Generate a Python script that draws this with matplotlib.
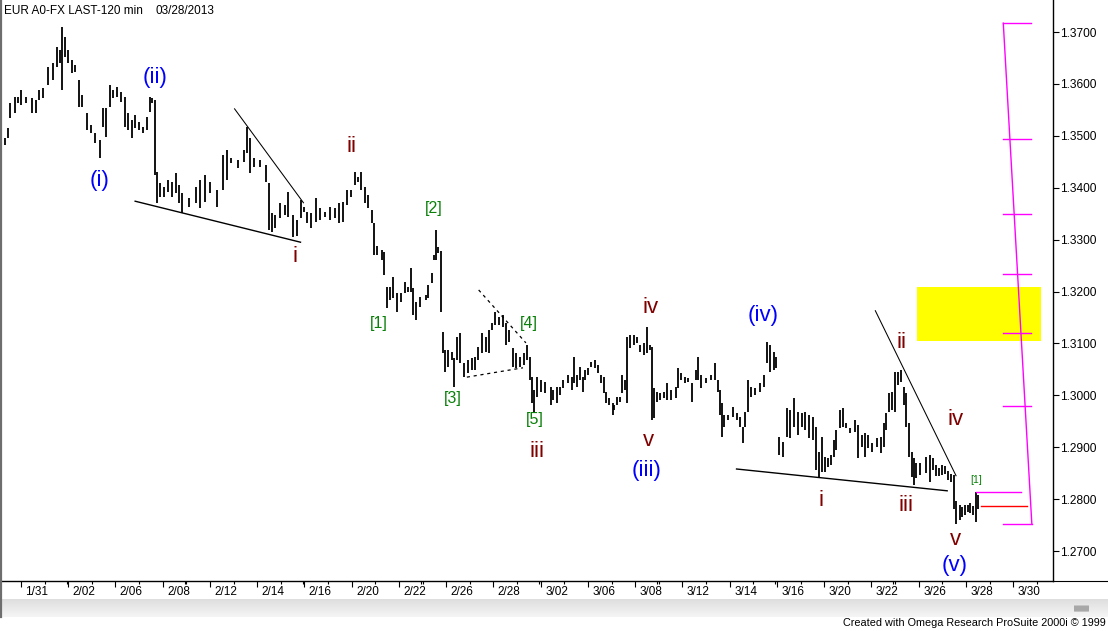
import matplotlib
matplotlib.use("Agg")
import matplotlib.pyplot as plt
import numpy as np
from matplotlib.patches import Rectangle, FancyBboxPatch
from matplotlib.lines import Line2D
import matplotlib.transforms as mtransforms

plt.rcParams['font.family'] = ['Liberation Sans', 'DejaVu Sans']

# ---------------- data: 120-min EUR bars (hours from 1/31 session start) ----------------
hours = [-16, -13, -11, -6, -3, 0, 5, 11, 15, 18, 22, 27, 33, 37, 40, 42, 45, 48, 52, 55,
         59, 62, 67, 71, 75, 80, 83, 86, 90, 93, 98, 102, 106, 109, 113, 116, 120, 124, 128, 131,
         133, 136, 138, 141, 145, 149, 153, 158, 161, 164, 171, 178, 182, 187, 192, 199, 205, 209, 213, 221,
         227, 230, 233, 237, 243, 249, 252, 255, 258, 263, 268, 271, 276, 280, 284, 288, 291, 295, 300, 304,
         309, 314, 319, 323, 327, 331, 335, 339, 342, 345, 350, 353, 357, 359, 362, 367, 369, 372, 375, 378,
         382, 386, 390, 393, 396, 398, 401, 405, 411, 414, 418, 420, 422, 424, 427, 429, 431, 434, 438, 440,
         443, 446, 450, 454, 458, 461, 464, 468, 472, 475, 479, 482, 486, 490, 493, 496, 500, 503, 507, 511,
         514, 517, 519, 521, 524, 528, 532, 538, 541, 545, 548, 551, 556, 560, 562, 565, 568, 571, 573, 576,
         579, 583, 586, 589, 592, 594, 597, 601, 603, 606, 609, 611, 614, 616, 619, 623, 626, 629, 633, 636,
         639, 641, 643, 646, 649, 653, 656, 660, 665, 668, 671, 675, 678, 682, 686, 688, 691, 696, 701, 705,
         708, 710, 712, 714, 718, 723, 727, 731, 734, 736, 739, 742, 746, 751, 755, 758, 761, 765, 767, 770,
         774, 778, 781, 785, 789, 793, 797, 801, 805, 808, 811, 814, 817, 820, 823, 826, 828, 832, 835, 838,
         842, 847, 850, 854, 858, 861, 865, 870, 874, 877, 879, 882, 885, 888, 891, 894, 897, 899, 902, 905,
         907, 909, 913, 919, 924, 927, 930, 933, 936, 939, 942, 945, 948, 950, 954, 956, 959, 962, 964, 967,
         970, 972]

highs = [1.3496, 1.3515, 1.3563, 1.3575, 1.3575, 1.3588, 1.3575, 1.3573, 1.3569, 1.3588, 1.3592, 1.3633, 1.3640, 1.3671, 1.3665, 1.3710, 1.3690, 1.3665, 1.3646, 1.3637,
         1.3608, 1.3579, 1.3544, 1.3521, 1.3506, 1.3492, 1.3554, 1.3554, 1.3598, 1.3588, 1.3594, 1.3584, 1.3575, 1.3544, 1.3531, 1.3540, 1.3527, 1.3517, 1.3536, 1.3575,
         1.3573, 1.3569, 1.3430, 1.3409, 1.3401, 1.3415, 1.3411, 1.3428, 1.3405, 1.3390, 1.3380, 1.3401, 1.3415, 1.3425, 1.3411, 1.3396, 1.3463, 1.3473, 1.3457, 1.3453,
         1.3473, 1.3517, 1.3496, 1.3457, 1.3453, 1.3444, 1.3409, 1.3351, 1.3347, 1.3371, 1.3367, 1.3392, 1.3347, 1.3338, 1.3376, 1.3363, 1.3353, 1.3351, 1.3380, 1.3361,
         1.3353, 1.3363, 1.3361, 1.3371, 1.3373, 1.3396, 1.3396, 1.3430, 1.3421, 1.3430, 1.3401, 1.3386, 1.3357, 1.3332, 1.3288, 1.3280, 1.3276, 1.3209, 1.3209, 1.3228,
         1.3197, 1.3197, 1.3218, 1.3209, 1.3245, 1.3207, 1.3180, 1.3189, 1.3193, 1.3213, 1.3236, 1.3270, 1.3318, 1.3286, 1.3278, 1.3122, 1.3087, 1.3087, 1.3084, 1.3072,
         1.3112, 1.3120, 1.3062, 1.3068, 1.3072, 1.3074, 1.3093, 1.3120, 1.3112, 1.3126, 1.3139, 1.3160, 1.3151, 1.3155, 1.3139, 1.3126, 1.3091, 1.3082, 1.3074, 1.3082,
         1.3097, 1.3074, 1.3035, 1.3010, 1.3035, 1.3030, 1.3026, 1.3016, 1.3010, 1.3016, 1.3016, 1.3030, 1.3039, 1.3035, 1.3074, 1.3039, 1.3055, 1.3035, 1.3049, 1.3053,
         1.3064, 1.3068, 1.3058, 1.3039, 1.3035, 1.3006, 1.2995, 1.2985, 1.2981, 1.2997, 1.2997, 1.3039, 1.3030, 1.3112, 1.3116, 1.3116, 1.3112, 1.3097, 1.3101, 1.3132,
         1.3097, 1.3093, 1.3014, 1.3006, 1.3004, 1.3006, 1.3024, 1.3010, 1.3016, 1.3053, 1.3043, 1.3035, 1.3034, 1.3024, 1.3049, 1.3074, 1.3039, 1.3034, 1.3039, 1.3062,
         1.3030, 1.3010, 1.2985, 1.2962, 1.2962, 1.2977, 1.2966, 1.2958, 1.2939, 1.2968, 1.3030, 1.3016, 1.3014, 1.3024, 1.3039, 1.3103, 1.3097, 1.3084, 1.3074, 1.2920,
         1.2910, 1.2976, 1.2972, 1.2995, 1.2968, 1.2966, 1.2968, 1.2962, 1.2958, 1.2939, 1.2891, 1.2920, 1.2881, 1.2879, 1.2885, 1.2914, 1.2933, 1.2972, 1.2976, 1.2947,
         1.2937, 1.2952, 1.2943, 1.2923, 1.2927, 1.2923, 1.2908, 1.2918, 1.2920, 1.2947, 1.2966, 1.3004, 1.3006, 1.3045, 1.3045, 1.3049, 1.3016, 1.3004, 1.2947, 1.2891,
         1.2879, 1.2870, 1.2870, 1.2881, 1.2885, 1.2879, 1.2866, 1.2860, 1.2866, 1.2864, 1.2854, 1.2848, 1.2846, 1.2796, 1.2789, 1.2785, 1.2789, 1.2789, 1.2792, 1.2787,
         1.2814, 1.2808]

lows = [1.3482, 1.3496, 1.3534, 1.3544, 1.3563, 1.3559, 1.3563, 1.3544, 1.3544, 1.3569, 1.3573, 1.3598, 1.3608, 1.3633, 1.3640, 1.3588, 1.3652, 1.3640, 1.3621, 1.3623,
        1.3556, 1.3556, 1.3511, 1.3506, 1.3486, 1.3457, 1.3517, 1.3498, 1.3556, 1.3573, 1.3575, 1.3565, 1.3517, 1.3511, 1.3496, 1.3515, 1.3511, 1.3506, 1.3511, 1.3546,
        1.3563, 1.3425, 1.3371, 1.3382, 1.3382, 1.3392, 1.3382, 1.3390, 1.3371, 1.3351, 1.3363, 1.3371, 1.3361, 1.3372, 1.3390, 1.3363, 1.3396, 1.3415, 1.3448, 1.3438,
        1.3450, 1.3467, 1.3428, 1.3440, 1.3440, 1.3411, 1.3318, 1.3315, 1.3322, 1.3342, 1.3347, 1.3344, 1.3305, 1.3307, 1.3342, 1.3353, 1.3332, 1.3322, 1.3334, 1.3338,
        1.3344, 1.3338, 1.3342, 1.3332, 1.3334, 1.3367, 1.3382, 1.3405, 1.3411, 1.3396, 1.3371, 1.3361, 1.3332, 1.3270, 1.3270, 1.3261, 1.3232, 1.3168, 1.3184, 1.3188,
        1.3161, 1.3180, 1.3197, 1.3199, 1.3199, 1.3155, 1.3145, 1.3170, 1.3184, 1.3188, 1.3217, 1.3261, 1.3261, 1.3274, 1.3161, 1.3082, 1.3045, 1.3055, 1.3068, 1.3016,
        1.3068, 1.3062, 1.3035, 1.3043, 1.3049, 1.3049, 1.3068, 1.3082, 1.3084, 1.3082, 1.3126, 1.3135, 1.3135, 1.3132, 1.3097, 1.3103, 1.3055, 1.3053, 1.3055, 1.3058,
        1.3068, 1.3030, 1.2985, 1.2968, 1.2997, 1.3006, 1.3004, 1.2981, 1.2991, 1.2985, 1.3001, 1.3014, 1.3024, 1.3010, 1.3024, 1.3016, 1.3030, 1.3006, 1.3030, 1.3039,
        1.3055, 1.3053, 1.3043, 1.3024, 1.3004, 1.2985, 1.2981, 1.2962, 1.2972, 1.2981, 1.2987, 1.3004, 1.3010, 1.2985, 1.3091, 1.3097, 1.3101, 1.3084, 1.3078, 1.3082,
        1.3087, 1.2952, 1.2956, 1.2987, 1.2991, 1.2995, 1.2991, 1.2991, 1.2995, 1.3014, 1.3030, 1.3024, 1.3026, 1.2987, 1.3030, 1.3030, 1.3014, 1.3024, 1.3030, 1.3030,
        1.3006, 1.2962, 1.2920, 1.2939, 1.2952, 1.2958, 1.2952, 1.2939, 1.2908, 1.2939, 1.2968, 1.2997, 1.3001, 1.3006, 1.3016, 1.3062, 1.3045, 1.3049, 1.3053, 1.2885,
        1.2881, 1.2920, 1.2918, 1.2939, 1.2923, 1.2939, 1.2933, 1.2918, 1.2914, 1.2856, 1.2841, 1.2852, 1.2852, 1.2862, 1.2866, 1.2881, 1.2895, 1.2937, 1.2939, 1.2937,
        1.2927, 1.2929, 1.2879, 1.2900, 1.2881, 1.2898, 1.2891, 1.2900, 1.2889, 1.2900, 1.2933, 1.2968, 1.2972, 1.2968, 1.3020, 1.3026, 1.2981, 1.2939, 1.2881, 1.2843,
        1.2827, 1.2841, 1.2846, 1.2850, 1.2833, 1.2856, 1.2845, 1.2845, 1.2846, 1.2848, 1.2837, 1.2833, 1.2781, 1.2752, 1.2760, 1.2766, 1.2769, 1.2775, 1.2773, 1.2769,
        1.2756, 1.2781]

date_labels = ["1/31", "2/02", "2/06", "2/08", "2/12", "2/14", "2/16", "2/20", "2/22", "2/26", "2/28",
               "3/02", "3/06", "3/08", "3/12", "3/14", "3/16", "3/20", "3/22", "3/26", "3/28", "3/30"]
price_ticks = [1.27, 1.28, 1.29, 1.30, 1.31, 1.32, 1.33, 1.34, 1.35, 1.36, 1.37]

# Elliott-wave annotations: (text, hour, price)
blue_labels = [("(i)", 80, 1.3413), ("(ii)", 136, 1.3613), ("(iii)", 636, 1.2856),
               ("(iv)", 754, 1.3153), ("(v)", 949, 1.2673)]
red_labels = [("i", 278, 1.3267), ("ii", 336, 1.3479), ("iii", 524, 1.2891), ("iv", 640, 1.3170),
              ("v", 638, 1.2912), ("i", 813, 1.2798), ("ii", 895, 1.3101), ("iii", 899, 1.2787),
              ("iv", 949, 1.2953), ("v", 949, 1.2723)]
green_labels = [("[1]", 364, 1.3139), ("[2]", 419, 1.3359), ("[3]", 439, 1.2993),
                ("[4]", 516, 1.3139), ("[5]", 522, 1.2953)]

# trend lines ((h0, p0), (h1, p1))
solid_lines = [((116, 1.3374), (284, 1.3295)), ((727, 1.2858), (941, 1.2816))]
thin_lines = [((217, 1.3552), (287, 1.3371)), ((868, 1.3163), (950, 1.2845))]
dashed_lines = [((465, 1.3203), (513, 1.3101)), ((453, 1.3035), (510, 1.3053))]

# target zone and fib projection
zone = (910, 1036, 1.3105, 1.3208)
fib_top, fib_bottom = 1.3717, 1.2752
fib_levels = [1.3494, 1.3349, 1.3234, 1.3120, 1.2979]
fib_h0, fib_h1 = 998, 1026
wave1_high = 1.2814
red_level = 1.2787

# ---------------- figure ----------------
W, H = 1108, 631
fig = plt.figure(figsize=(W / 100, H / 100), dpi=100)
fig.patch.set_facecolor('white')
ax = fig.add_axes([0, 50 / H, 1053 / W, 581 / H])
ax.set_facecolor('white')
ax.set_xlim(-21.3, 1048.5)
ax.set_ylim(1.26422, 1.37617)

# price bars
ax.vlines(hours, lows, highs, color='black', lw=1.3, antialiased=True, zorder=3)

# yellow zone
ax.add_patch(Rectangle((zone[0], zone[2]), zone[1] - zone[0], zone[3] - zone[2],
                       facecolor='#FFFF00', edgecolor='none', zorder=1))

# fib projection (magenta)
mag = '#FF00FF'
ax.plot([fib_h0, fib_h1], [fib_top, fib_top], color=mag, lw=1.0, zorder=4)
ax.plot([fib_h0, fib_h1 + 1], [fib_top, fib_bottom], color=mag, lw=1.0, zorder=4)
ax.plot([fib_h0, fib_h1 + 1], [fib_bottom, fib_bottom], color=mag, lw=1.0, zorder=4)
for lv in fib_levels:
    ax.plot([fib_h0, fib_h1], [lv, lv], color=mag, lw=1.0, zorder=4)
ax.plot([970.5, 1016], [wave1_high, wave1_high], color=mag, lw=1.0, zorder=4)
ax.plot([975.5, 1022], [red_level, red_level], color='#FF0000', lw=1.0, zorder=4)

# trend lines
for (a, b) in solid_lines:
    ax.plot([a[0], b[0]], [a[1], b[1]], color='black', lw=1.0, zorder=4)
for (a, b) in thin_lines:
    ax.plot([a[0], b[0]], [a[1], b[1]], color='black', lw=0.75, zorder=4)
for (a, b) in dashed_lines:
    ax.plot([a[0], b[0]], [a[1], b[1]], color='black', lw=0.9, ls=(0, (2.5, 3)), zorder=4)

# wave labels
for t, h, p in blue_labels:
    ax.text(h, p, t, color='#0000FF', fontsize=16, ha='center', va='center', zorder=5)
for t, h, p in red_labels:
    ax.text(h, p, t, color='#800000', fontsize=16, ha='center', va='center', zorder=5)
for t, h, p in green_labels:
    ax.text(h, p, t, color='#0A800A', fontsize=11.5, ha='center', va='center', zorder=5)
ax.text(970, 1.2837, "[1]", color='#0A800A', fontsize=7.5, ha='center', va='center', zorder=5)

# spines
ax.spines['top'].set_visible(False)
ax.spines['left'].set_color('#7A7A7A')
ax.spines['left'].set_linewidth(2.0)
ax.spines['right'].set_color('black')
ax.spines['right'].set_linewidth(1.0)
ax.spines['bottom'].set_color('black')
ax.spines['bottom'].set_linewidth(1.0)

# y axis on right
ax.yaxis.tick_right()
ax.set_yticks(price_ticks)
ax.set_yticklabels([f"{v:.4f}" for v in price_ticks], fontsize=8.6)
ax.tick_params(axis='y', which='major', direction='out', length=4.3, width=0.8, pad=0.5,
               colors='black', left=False, right=True)

# x axis: major ticks every 2 days (48 h), minor daily ticks, week double ticks
major_h = [48 * k for k in range(len(date_labels))]
minor_h = [48 * k + 24 for k in range(len(date_labels))] + [48 + 120 * k - 1.6 for k in range(8)]
ax.set_xticks(major_h)
ax.set_xticklabels([])
ax.set_xticks(minor_h, minor=True)
ax.tick_params(axis='x', which='major', direction='out', length=4.3, width=0.8, bottom=True, top=False)
ax.tick_params(axis='x', which='minor', direction='out', length=2.2, width=0.8, bottom=True, top=False)
trans = mtransforms.blended_transform_factory(ax.transData, ax.transAxes)
for h, lab in zip(major_h, date_labels):
    ax.text(h + 4.5, -0.0185, lab, transform=trans, fontsize=8.5, ha='left', va='center', clip_on=False)

# header text
fig.text(4 / W, 1 - 11 / H, "EUR A0-FX LAST-120 min", fontsize=8.5, ha='left', va='center')
fig.text(156 / W, 1 - 11 / H, "03/28/2013", fontsize=8.5, ha='left', va='center')

# bottom axis line extension and scrollbar band
fig.add_artist(Line2D([1053 / W, 1.0], [(H - 581) / H] * 2, color='black', lw=0.8))
grad_ax = fig.add_axes([0, (H - 617) / H, 1, 18 / H])
grad = np.linspace(0.87, 0.96, 64).reshape(-1, 1)
grad_ax.imshow(np.repeat(grad, 4, axis=1), cmap='gray', vmin=0, vmax=1, aspect='auto',
               extent=[0, 1, 0, 1])
grad_ax.set_axis_off()
grad_ax.add_patch(FancyBboxPatch((1074 / W, 0.3), 15 / W, 0.34,
                                 boxstyle="round,pad=0,rounding_size=0.003",
                                 facecolor='#A8A8A8', edgecolor='none', transform=grad_ax.transAxes))
grad_ax.set_xlim(0, 1)
grad_ax.set_ylim(0, 1)
fig.add_artist(Line2D([0.6 / W, 0.6 / W], [(H - 617) / H, 1.0], color='#6E6E6E', lw=1.6))

fig.text(1106 / W, 1 - 623 / H, "Created with Omega Research ProSuite 2000i \u00a9 1999",
         fontsize=7.8, ha='right', va='center')

fig.savefig("out.png", dpi=100, facecolor='white')
